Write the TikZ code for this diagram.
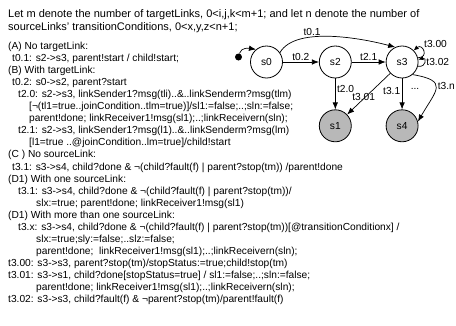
\documentclass[tikz,border=0pt]{standalone}
\usepackage{fontspec}
\setmainfont{Liberation Sans}
\usetikzlibrary{arrows.meta,positioning}

\begin{document}
\begin{tikzpicture}[x=1pt, y=-1pt,
  font=\fontsize{10.2}{12}\selectfont,
  txt/.style={anchor=base west, inner sep=0pt},
  intro/.style={txt, font=\fontsize{11}{13}\selectfont},
  state/.style={circle, draw, line width=0.8pt, minimum size=32pt, inner sep=0pt},
  final/.style={state, fill=black!28},
  arrow/.style={-{Latex[length=7pt,width=5.5pt]}, line width=0.7pt},
  selfarrow/.style={-{Latex[length=5pt,width=4.5pt]}, line width=0.7pt},
  lbl/.style={inner sep=1.5pt}]
  \useasboundingbox (0,0) rectangle (456,325);
  % legend text
  \node[intro] (intro1) at (8,17.5) {Let m denote the number of targetLinks, 0<i,j,k<m+1; and let n denote the number of};
  \node[intro] (intro2) at (8,30) {sourceLinks' transitionConditions, 0<x,y,z<n+1;};
  \node[txt] (caseA) at (8,49.5) {(A) No targetLink:};
  \node[txt] (tA1) at (12,61.55) {t0.1: s2->s3, parent!start / child!start;};
  \node[txt] (caseB) at (8,73.6) {(B) With targetLink:};
  \node[txt] (tB1) at (12,85.65) {t0.2: s0->s2, parent?start};
  \node[txt] (tB2) at (18,97.7) {t2.0: s2->s3, linkSender1?msg(tli)..\&..linkSenderm?msg(tlm)};
  \node[txt] (tB2a) at (29,109.75) {[¬(tl1=true..joinCondition..tlm=true)]/sl1:=false;..;sln:=false;};
  \node[txt] (tB2b) at (29,121.8) {parent!done; linkReceiver1!msg(sl1);..;linkReceivern(sln);};
  \node[txt] (tB3) at (18,133.85) {t2.1: s2->s3, linkSender1?msg(l1)..\&..linkSenderm?msg(lm)};
  \node[txt] (tB3a) at (29,145.9) {[l1=true ..@joinCondition..lm=true]/child!start};
  \node[txt] (caseC) at (8,157.95) {(C ) No sourceLink:};
  \node[txt] (tC1) at (12,170) {t3.1: s3->s4, child?done \& ¬(child?fault(f) | parent?stop(tm)) /parent!done};
  \node[txt] (caseD) at (8,182.05) {(D1) With one sourceLink:};
  \node[txt] (tD1) at (18,194.1) {t3.1: s3->s4, child?done \& ¬(child?fault(f) | parent?stop(tm))/};
  \node[txt] (tD1a) at (36,206.15) {slx:=true; parent!done; linkReceiver1!msg(sl1)};
  \node[txt] (caseE) at (8,218.2) {(D1) With more than one sourceLink:};
  \node[txt] (tE1) at (18,230.25) {t3.x: s3->s4, child?done \& ¬(child?fault(f) | parent?stop(tm))[@transitionConditionx] /};
  \node[txt] (tE1a) at (36,242.3) {slx:=true;sly:=false;..slz:=false;};
  \node[txt] (tE1b) at (36,254.35) {parent!done;\ \ linkReceiver1!msg(sl1);..;linkReceivern(sln);};
  \node[txt] (tS00) at (8,266.4) {t3.00: s3->s3, parent?stop(tm)/stopStatus:=true;child!stop(tm)};
  \node[txt] (tS01) at (8,278.45) {t3.01: s3->s1, child?done[stopStatus=true] / sl1:=false;..;sln:=false;};
  \node[txt] (tS01a) at (36,290.5) {parent!done; linkReceiver1!msg(sl1);..;linkReceivern(sln);};
  \node[txt] (tS02) at (8,302.55) {t3.02: s3->s3, child?fault(f) \& ¬parent?stop(tm)/parent!fault(f)};
  % states
  \node[state] (s0) at (266.5,62) {s0};
  \node[state, right=36pt of s0] (s2) {s2};
  \node[state, right=34pt of s2] (s3) {s3};
  \node[final, below=31pt of s2] (s1) {s1};
  \node[final, below=31pt of s3] (s4) {s4};
  \node[circle, fill, inner sep=0pt, minimum size=7pt] (init) at (238.5,57) {};
  \node (dots) at (415,89) {...};
  % transitions
  \draw[arrow] (init) to[out=75,in=170] (s0.130);
  \draw[arrow] (s0.35) to[out=60,in=165,looseness=0.7] node[lbl, above, pos=0.35] {t0.1} (s3.115);
  \draw[arrow] (s0) -- node[lbl, above] {t0.2} (s2);
  \draw[arrow] (s2) -- node[lbl, above] {t2.1} (s3);
  \draw[arrow] (s2) -- node[lbl, right, pos=0.35] {t2.0} (s1);
  \draw[arrow] (s3) -- node[lbl, left, pos=0.4] {t3.1} (s4);
  \draw[arrow] (s3) -- node[lbl, pos=0.5, xshift=-5pt, yshift=-3pt] {t3.01} (s1);
  \draw[arrow] (s3.-50) to[out=-10,in=60,looseness=2] node[lbl, right, pos=0.45] {t3.n} (s4.15);
  \draw[selfarrow] (s3.15) to[out=0,in=40,looseness=3.5] node[lbl, above right, pos=0.6] {t3.00} (s3.45);
  \draw[selfarrow] (s3.-15) to[out=-10,in=20,looseness=3.5] node[lbl, right] {t3.02} (s3.8);
\end{tikzpicture}
\end{document}
